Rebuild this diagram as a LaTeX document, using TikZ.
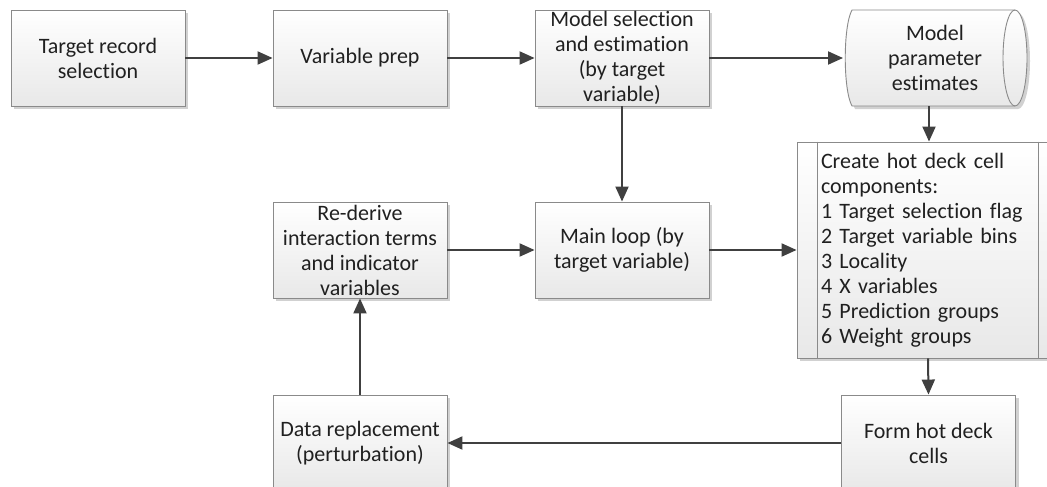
\documentclass[tikz,border=0pt]{standalone}
\usepackage{fontspec}
\setmainfont{Carlito}[Ligatures={NoCommon}]
\usetikzlibrary{arrows.meta,shadows}
\definecolor{edgegray}{HTML}{8A8A8A}
\definecolor{arrowgray}{HTML}{404040}
\definecolor{txt}{HTML}{202020}
\tikzset{
  box/.style={draw=edgegray, line width=0.9pt, shading=axis, top color=white, bottom color=black!9,
    minimum width=174pt, minimum height=96pt, inner sep=0pt, align=center, text=txt,
    font=\fontsize{22}{25}\selectfont,
    drop shadow={shadow xshift=3pt, shadow yshift=-3pt, fill=black, opacity=0.18}},
  conn/.style={draw=arrowgray, line width=2pt, -{Triangle[length=15pt,width=13pt]}},
}
\begin{document}
\begin{tikzpicture}[x=1pt,y=-1pt]
\useasboundingbox (0,0) rectangle (1047,487);
\clip (0,0) rectangle (1047,487);
\fill[white] (0,0) rectangle (1047,487);
% top row
\node[box] (t1) at (98,58) {Target record\\selection};
\node[box] (t2) at (360,58) {Variable prep};
\node[box] (t3) at (622,58) {Model selection\\and estimation\\(by target\\variable)};
% cylinder (model parameter estimates)
\fill[black, opacity=0.18] (855,13) -- (1018,13) arc[start angle=-90,end angle=90,x radius=12,y radius=48] -- (855,109) .. controls (846,92) and (846,30) .. (855,13) -- cycle;
\shade[top color=white, bottom color=black!9, draw=edgegray, line width=0.9pt]
  (852,10) -- (1015,10) arc[start angle=-90,end angle=90,x radius=12,y radius=48] -- (852,106) .. controls (843,90) and (843,26) .. (852,10) -- cycle;
\draw[edgegray, line width=0.9pt] (1015,10) arc[start angle=-90,end angle=-270,x radius=12,y radius=48];
\node[align=center, text=txt, font=\fontsize{22}{25}\selectfont, inner sep=0pt] (cyl) at (935,58) {Model\\parameter\\estimates};
\coordinate (cylL) at (843,58);
\coordinate (cylB) at (929,106);
% middle row
\node[box] (m1) at (360,250) {Re-derive\\interaction terms\\and indicator\\variables};
\node[box] (m2) at (622,250) {Main loop (by\\target variable)};
\node[box, minimum width=262pt, minimum height=216pt, text width=214pt, align=left] (hd) at (928,250)
  {Create hot deck cell\\components:\\1 Target selection flag\\2 Target variable bins\\3 Locality\\4 X variables\\5 Prediction groups\\6 Weight groups};
\draw[edgegray, line width=0.9pt] ([xshift=21pt]hd.north west) -- ([xshift=21pt]hd.south west);
\draw[edgegray, line width=0.9pt] ([xshift=-21pt]hd.north east) -- ([xshift=-21pt]hd.south east);
% bottom row
\node[box] (b1) at (360,443) {Data replacement\\(perturbation)};
\node[box] (b2) at (928.5,443) {Form hot deck\\cells};
% connectors
\draw[conn] (t1.east) -- (t2.west);
\draw[conn] (t2.east) -- (t3.west);
\draw[conn] (t3.east) -- (cylL);
\draw[conn] (t3.south) -- (m2.north);
\draw[conn] (cylB) -- (cylB |- hd.north);
\draw[conn] (m1.east) -- (m2.west);
\draw[conn] (m2.east) -- (hd.west);
\draw[conn] (hd.south) -- (b2.north);
\draw[conn] (b2.west) -- (b1.east);
\draw[conn] (b1.north) -- (m1.south);
\end{tikzpicture}
\end{document}
